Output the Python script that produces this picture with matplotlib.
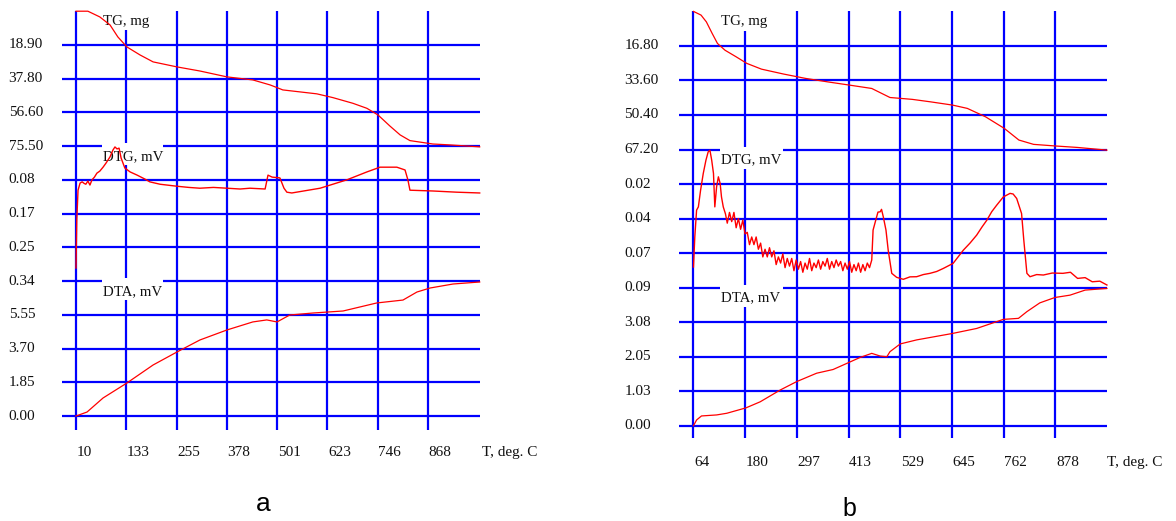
import matplotlib.pyplot as plt
from matplotlib.patches import Rectangle

# ---- panel a ----
a_xticks = ['10', '133', '255', '378', '501', '623', '746', '868']
a_yticks = ['18.90', '37.80', '56.60', '75.50', '0.08', '0.17', '0.25', '0.34',
            '5.55', '3.70', '1.85', '0.00']
a_t0, a_dt = 10, 122.57
a_tg_step, a_dtg_step, a_dta_step = 18.9, 0.085, 1.85

a_tg_T = [10, 39, 68, 93, 112, 134, 166, 198, 256, 312, 378, 441, 483, 500, 514,
          597, 636, 685, 719, 746, 775, 800, 824, 880, 921, 994]
a_tg = [0, 0, 3.2, 7.7, 14.4, 20.0, 24.5, 28.4, 31.2, 33.5, 36.8, 38.5, 41.3, 42.8, 44.1,
        46.3, 48.4, 51.6, 54.4, 58.1, 64.3, 69.3, 72.5, 74.4, 74.9, 76.0]

a_dtg_T = [10, 12, 15, 20, 25, 30, 34, 39, 44, 49, 55, 61, 68, 76, 83, 93, 100, 105,
           110, 115, 120, 129, 142, 159, 178, 190, 215, 256, 285, 312, 345, 378, 410,
           434, 471, 478, 488, 507, 517, 524, 536, 605, 670, 719, 751, 792, 812, 819,
           824, 880, 938, 994]
a_dtg = [0.307, 0.186, 0.111, 0.093, 0.090, 0.094, 0.096, 0.088, 0.098, 0.085, 0.078,
         0.068, 0.063, 0.053, 0.043, 0.027, 0.010, 0.002, 0.007, 0.005, 0.030, 0.055,
         0.065, 0.073, 0.083, 0.090, 0.096, 0.101, 0.104, 0.106, 0.104, 0.106, 0.108,
         0.106, 0.108, 0.073, 0.078, 0.080, 0.106, 0.116, 0.118, 0.106, 0.085, 0.065,
         0.053, 0.053, 0.060, 0.085, 0.111, 0.113, 0.116, 0.118]

a_dta_T = [10, 37, 76, 134, 198, 256, 312, 378, 441, 475, 500, 531, 588, 661, 743,
           807, 841, 873, 929, 994]
a_dta = [0, 0.22, 0.99, 1.81, 2.80, 3.51, 4.17, 4.72, 5.16, 5.27, 5.16, 5.54, 5.65,
         5.76, 6.20, 6.36, 6.80, 7.02, 7.24, 7.35]

# ---- panel b ----
b_xticks = ['64', '180', '297', '413', '529', '645', '762', '878']
b_yticks = ['16.80', '33.60', '50.40', '67.20', '0.02', '0.04', '0.07', '0.09',
            '3.08', '2.05', '1.03', '0.00']
b_t0, b_dt = 64, 116.3
b_tg_step, b_dtg_step, b_dta_step = 16.8, 0.0225, 1.026

b_tg_T = [64, 81, 93, 106, 118, 135, 160, 184, 217, 267, 316, 366, 416, 465, 506,
          556, 597, 647, 680, 721, 763, 796, 829, 879, 928, 994]
b_tg = [0, 1.8, 5.1, 10.7, 15.6, 18.9, 22.1, 25.3, 28.1, 30.5, 32.6, 34.3, 35.9, 37.5,
        41.9, 42.8, 44.0, 45.6, 47.2, 51.3, 56.9, 62.6, 64.7, 65.5, 66.2, 67.5]

b_dtg_T = [64, 67, 71, 75, 80, 86, 92, 97, 101, 105, 109, 112, 116, 120, 124, 127, 131,
           136,
           140, 145, 150, 155, 160, 165, 170, 175, 180, 185, 190, 195, 200, 205, 210,
           215, 220, 225, 230, 235, 240, 245, 250, 255, 260, 265, 270, 275, 280, 285,
           290, 295, 300, 305, 310, 315, 320, 325, 330, 335, 340, 345, 350, 355, 360,
           365, 370, 375, 380, 385, 390, 395, 400, 405, 410, 415, 420, 425, 430, 435,
           440, 445, 450, 455, 460,
           465, 468, 476, 479, 484, 487, 491, 497, 502, 510, 521, 536, 551, 566, 581,
           596, 611, 626, 648, 671, 686, 701, 713, 724, 735, 746, 761, 776, 783, 791,
           802, 807, 814, 821, 836, 851, 871, 895, 912, 928, 945, 961, 978, 994]
b_dtg = [0.0766, 0.0569, 0.0395, 0.0374, 0.0265, 0.0156, 0.0070, 0.0016, 0.0005,
         0.0070, 0.0156, 0.0374, 0.0243, 0.0178, 0.0221, 0.0309, 0.0374, 0.0420,
         0.048, 0.041, 0.047, 0.041, 0.051, 0.045, 0.052, 0.046, 0.055, 0.054, 0.062,
         0.057, 0.062, 0.057, 0.065, 0.061, 0.070, 0.065, 0.070, 0.064, 0.070, 0.066,
         0.075, 0.070, 0.074, 0.068, 0.077, 0.071, 0.076, 0.071, 0.079, 0.072, 0.078,
         0.073, 0.080, 0.074, 0.078, 0.071, 0.079, 0.074, 0.077, 0.072, 0.078, 0.073,
         0.076, 0.071, 0.078, 0.073, 0.077, 0.072, 0.076, 0.073, 0.079, 0.074, 0.078,
         0.073, 0.080, 0.075, 0.079, 0.074, 0.080, 0.075, 0.079, 0.074, 0.077,
         0.072, 0.0525, 0.0439, 0.0408, 0.0406, 0.0390, 0.0439, 0.0525, 0.0656, 0.0807,
         0.0833, 0.0846, 0.0830, 0.0829, 0.0815, 0.0807, 0.0795, 0.0775, 0.0742, 0.0656,
         0.0610, 0.0558, 0.0505, 0.0460, 0.0405, 0.0363, 0.0309, 0.0286, 0.0290, 0.0319,
         0.0417, 0.0590, 0.0807, 0.0829, 0.0815, 0.0818, 0.0805, 0.0807, 0.0800, 0.0840,
         0.0835, 0.0862, 0.0858, 0.0883]

b_dta_T = [64, 71, 82, 116, 139, 182, 214, 259, 296, 341, 378, 412, 439, 465, 484,
           499, 506, 529, 566, 646, 701, 761, 795, 814, 843, 877, 911, 945, 994]
b_dta = [0, 0.17, 0.29, 0.32, 0.37, 0.53, 0.71, 1.06, 1.31, 1.56, 1.67, 1.87, 2.03,
         2.15, 2.07, 2.05, 2.20, 2.43, 2.55, 2.74, 2.89, 3.16, 3.19, 3.39, 3.65, 3.81,
         3.88, 4.03, 4.08]

W, H = 1176, 521
GRID = '#0000ff'
RED = '#ff0000'
SERIF = 'Liberation Serif'

fig = plt.figure(figsize=(W / 100, H / 100), dpi=100)


def panel(rect, xlim, ylim, xticks, yticks, t0, dt, steps, curves, tlabel_x):
    ax = fig.add_axes(rect)
    ax.set_xlim(*xlim)
    ax.set_ylim(*ylim)
    ax.axis('off')
    # grid
    for c in range(len(xticks)):
        ax.vlines(c, ylim[0], 12, color=GRID, lw=1.6, clip_on=False, zorder=1)
    for r in range(len(yticks)):
        ax.hlines(r, xlim[0], xlim[1], color=GRID, lw=1.6, clip_on=False, zorder=1)
    # tick labels
    for c, lab in enumerate(xticks):
        ax.text(c + 0.01, -1.07, lab, ha='left', va='center', fontsize=11,
                family=SERIF, color='#111111')
    ax.text(tlabel_x, -1.07, 'T, deg. C', ha='left', va='center', fontsize=11,
            family=SERIF, color='#111111', clip_on=False)
    for i, lab in enumerate(yticks):
        ax.text(-1.34, 11 - i, lab, ha='left', va='center', fontsize=11,
                family=SERIF, color='#111111')
    # curve labels with white boxes over the grid
    for row, lab in [(12, 'TG, mg'), (8, 'DTG, mV'), (4, 'DTA, mV')]:
        ax.add_patch(Rectangle((0.51, row - 0.57), 1.23, 0.65, facecolor='white',
                               edgecolor='none', zorder=2, clip_on=False))
        ax.text(0.53, row - 0.3, lab, ha='left', va='center', fontsize=10.7,
                family=SERIF, color='#111111', zorder=3)
    # curves
    tg_step, dtg_step, dta_step = steps
    (tgT, tg), (dtgT, dtg), (dtaT, dta) = curves
    ax.plot([(t - t0) / dt for t in tgT], [12 - v / tg_step for v in tg],
            color=RED, lw=0.9, zorder=4, clip_on=False)
    ax.plot([(t - t0) / dt for t in dtgT], [8 - v / dtg_step for v in dtg],
            color=RED, lw=1.0, zorder=4, clip_on=False)
    ax.plot([(t - t0) / dt for t in dtaT], [v / dta_step for v in dta],
            color=RED, lw=0.9, zorder=4, clip_on=False)
    return ax


# panel a: column 0 at x=76 px, 50.29 px/col; row 0 at y=416 px, 33.73 px/row
panel([61.9 / W, (H - 430.2) / H, 418.4 / W, 419.0 / H], (-0.28, 8.04), (-0.42, 12.0),
      a_xticks, a_yticks, a_t0, a_dt, (a_tg_step, a_dtg_step, a_dta_step),
      [(a_tg_T, a_tg), (a_dtg_T, a_dtg), (a_dta_T, a_dta)], 8.08)

# panel b: column 0 at x=693.5 px, 51.7 px/col; row 0 at y=425.7 px, 34.55 px/row
panel([679.0 / W, (H - 438.0) / H, 428.1 / W, 426.6 / H], (-0.28, 8.0), (-0.356, 12.0),
      b_xticks, b_yticks, b_t0, b_dt, (b_tg_step, b_dtg_step, b_dta_step),
      [(b_tg_T, b_tg), (b_dtg_T, b_dtg), (b_dta_T, b_dta)], 8.0)

fig.text(263 / W, 1 - 510.7 / H, 'a', ha='center', va='baseline', fontsize=19,
         family='Liberation Sans')
fig.text(849 / W, 1 - 516.5 / H, 'b', ha='center', va='baseline', fontsize=18,
         family='Liberation Sans')

fig.savefig('out.png', dpi=100, facecolor='white')
